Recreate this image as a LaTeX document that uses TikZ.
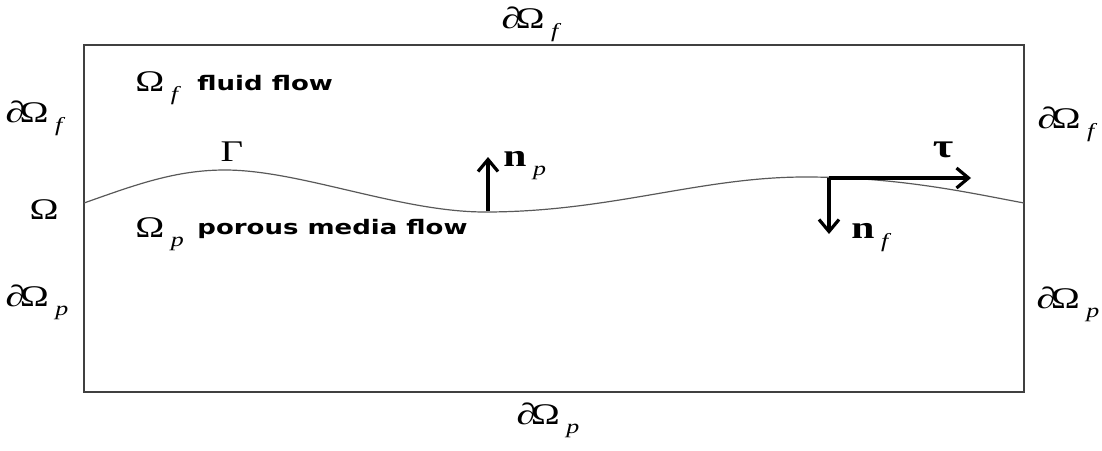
\documentclass[tikz,border=0pt]{standalone}
\usepackage{graphicx}
\usepackage{fontspec}
\newfontfamily\flowfont{DejaVu Sans}
\newfontfamily\symbfont{Liberation Serif}
\usetikzlibrary{arrows.meta}

\newcommand{\widen}[1]{\scalebox{1.3}[1]{#1}}
\newcommand{\lowsub}[1]{\kern2.5pt\raisebox{-4.5pt}{\fontsize{10}{10}\selectfont\itshape #1}}
\newcommand{\bnd}[1]{\widen{∂\kern-2ptΩ\lowsub{#1}}}

\begin{document}
\begin{tikzpicture}[
    x=0.5pt, y=-0.5pt,
    bordo/.style={draw=black!75, line width=1pt},
    interface/.style={draw=black!65, line width=0.6pt},
    vetor/.style={-{Straight Barb[length=6pt,width=10pt]}, line width=1.6pt},
    rotulo/.style={inner sep=0pt, font=\symbfont\fontsize{15}{17}\selectfont},
    regiao/.style={inner sep=0pt, anchor=west, font=\flowfont\bfseries\fontsize{10}{12}\selectfont}
]
\useasboundingbox (0,0) rectangle (1102,450);

% Domain
\coordinate (nw) at (84,45);
\coordinate (se) at (1024,392);
\draw[bordo] (nw) rectangle (se);

% Interface Gamma
\coordinate (cL) at (84,203);
\coordinate (c1) at (225,170);
\coordinate (c2) at (485,212);
\coordinate (c3) at (805,177);
\coordinate (cR) at (1024,203);
\draw[interface] (cL) .. controls (135,185) and (175,170) .. (c1)
    .. controls (300,170) and (400,212) .. (c2)
    .. controls (610,212) and (700,177) .. (c3)
    .. controls (900,177) and (970,193) .. (cR);

% Boundary labels
\node[rotulo] (topf) at (530,24) {\bnd{f}};
\node[rotulo] (leftf) at (34,118) {\bnd{f}};
\node[rotulo] (rightf) at (1066,124) {\bnd{f}};
\node[rotulo] (omega) at (44,210) {\widen{Ω}};
\node[rotulo] (leftp) at (37,302) {\bnd{p}};
\node[rotulo] (rightp) at (1068,304) {\bnd{p}};
\node[rotulo] (botp) at (548,420) {\bnd{p}};

% Subdomains
\node[rotulo, anchor=west] (omf) at (135,88) {\widen{Ω\lowsub{f}}};
\node[regiao] (fluid) at (197,83) {\widen{fluid flow}};
\node[rotulo, anchor=west] (omp) at (135,234) {\widen{Ω\lowsub{p}}};
\node[regiao] (porous) at (197,229) {\widen{porous media flow}};
\node[rotulo] (gamma) at (232,152) {\widen{Γ}};

% Normal and tangent vectors
\coordinate (pbase) at (488,211);
\coordinate (ptip) at (488,157);
\coordinate (fbase) at (829,178);
\coordinate (ftip) at (829,234);
\coordinate (ttip) at (971,178);
\draw[vetor] (pbase) -- (ptip);
\draw[vetor] (fbase) -- (ftip);
\draw[vetor] (fbase) -- (ttip);
\node[rotulo, anchor=west, font=\symbfont\fontsize{16}{18}\selectfont] (np) at (503,166) {\widen{\textbf{n}\lowsub{p}}};
\node[rotulo, anchor=west, font=\symbfont\fontsize{16}{18}\selectfont] (nf) at (851,238) {\widen{\textbf{n}\lowsub{f}}};
\node[rotulo, font=\symbfont\fontsize{17}{19}\selectfont] (tau) at (943,150) {\widen{\textbf{τ}}};

\end{tikzpicture}
\end{document}
